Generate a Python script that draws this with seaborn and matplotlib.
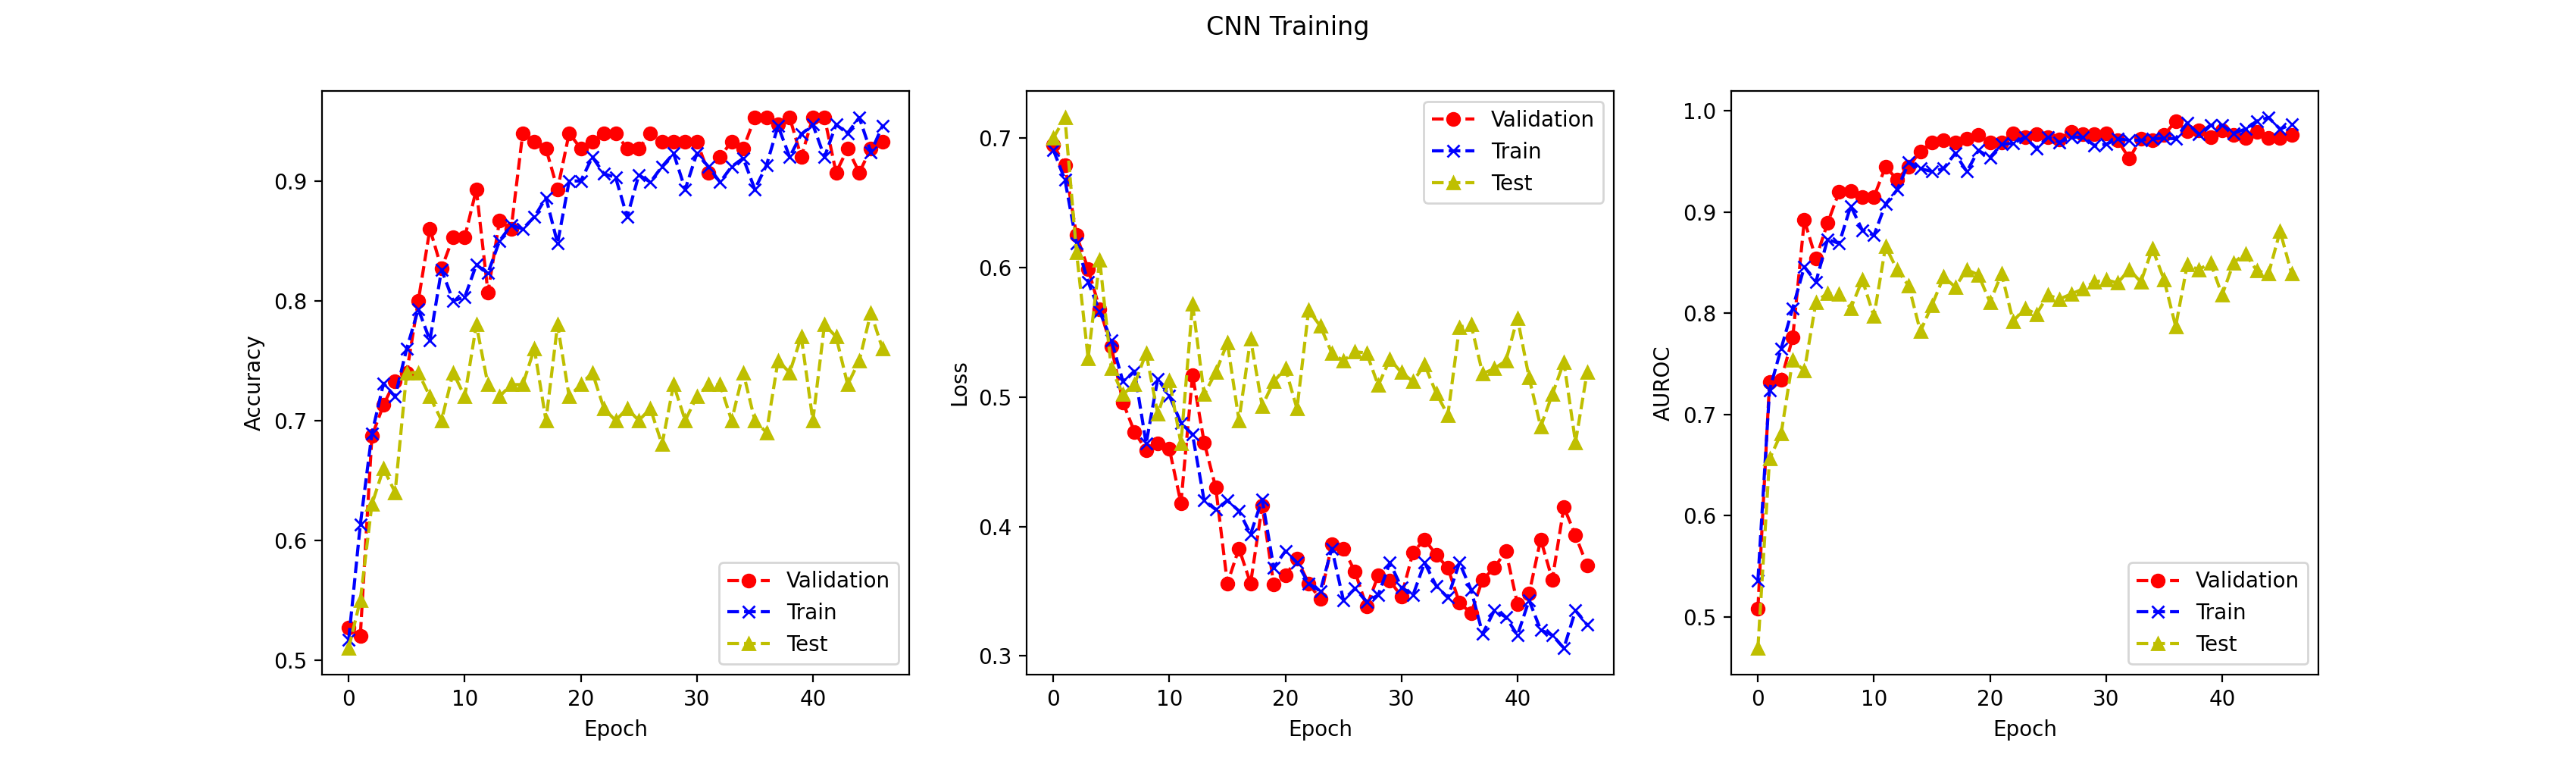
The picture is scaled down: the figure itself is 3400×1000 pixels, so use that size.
import numpy as np
import seaborn as sns
import matplotlib
matplotlib.use("Agg")
import matplotlib.pyplot as plt

# per-epoch metrics
epochs = list(range(47))

acc_val = [0.527, 0.52, 0.687, 0.713, 0.733, 0.74, 0.8, 0.86, 0.827, 0.853, 0.853, 0.893, 0.807, 0.867, 0.86,
           0.94, 0.933, 0.927, 0.893, 0.94, 0.927, 0.933, 0.94, 0.94, 0.927, 0.927, 0.94, 0.933, 0.933, 0.933,
           0.933, 0.907, 0.92, 0.933, 0.927, 0.953, 0.953, 0.947, 0.953, 0.92, 0.953, 0.953, 0.907, 0.927,
           0.907, 0.927, 0.933]
acc_train = [0.517, 0.613, 0.689, 0.731, 0.72, 0.76, 0.793, 0.767, 0.826, 0.80, 0.803, 0.83, 0.823, 0.85, 0.863,
             0.86, 0.87, 0.886, 0.848, 0.9, 0.9, 0.92, 0.906, 0.903, 0.87, 0.905, 0.899, 0.912, 0.923, 0.893,
             0.923, 0.912, 0.899, 0.912, 0.919, 0.893, 0.913, 0.946, 0.92, 0.939, 0.947, 0.92, 0.947, 0.94,
             0.953, 0.924, 0.946]
acc_test = [0.51, 0.55, 0.63, 0.66, 0.64, 0.74, 0.74, 0.72, 0.70, 0.74, 0.72, 0.78, 0.73, 0.72, 0.73, 0.73,
            0.76, 0.70, 0.78, 0.72, 0.73, 0.74, 0.71, 0.70, 0.71, 0.70, 0.71, 0.68, 0.73, 0.70, 0.72, 0.73,
            0.73, 0.70, 0.74, 0.70, 0.69, 0.75, 0.74, 0.77, 0.70, 0.78, 0.77, 0.73, 0.75, 0.79, 0.76]

loss_val = [0.695, 0.679, 0.625, 0.599, 0.568, 0.539, 0.496, 0.473, 0.459, 0.464, 0.46, 0.418, 0.517, 0.465,
            0.43, 0.356, 0.383, 0.356, 0.416, 0.355, 0.362, 0.375, 0.356, 0.344, 0.386, 0.383, 0.365, 0.338,
            0.362, 0.358, 0.346, 0.38, 0.39, 0.378, 0.368, 0.341, 0.333, 0.359, 0.368, 0.381, 0.34, 0.348,
            0.39, 0.359, 0.415, 0.393, 0.37]
loss_train = [0.691, 0.668, 0.619, 0.589, 0.566, 0.544, 0.512, 0.52, 0.464, 0.514, 0.501, 0.48, 0.471, 0.42,
              0.413, 0.42, 0.412, 0.394, 0.421, 0.368, 0.381, 0.372, 0.356, 0.35, 0.383, 0.343, 0.352, 0.342,
              0.347, 0.372, 0.353, 0.347, 0.372, 0.354, 0.345, 0.372, 0.351, 0.317, 0.335, 0.33, 0.316, 0.343,
              0.32, 0.316, 0.306, 0.335, 0.324]
loss_test = [0.70, 0.716, 0.612, 0.53, 0.606, 0.522, 0.502, 0.51, 0.534, 0.487, 0.513, 0.464, 0.572, 0.502,
             0.519, 0.542, 0.482, 0.545, 0.493, 0.512, 0.522, 0.491, 0.567, 0.555, 0.534, 0.528, 0.535, 0.534,
             0.509, 0.529, 0.519, 0.512, 0.525, 0.503, 0.486, 0.554, 0.556, 0.518, 0.522, 0.528, 0.561, 0.515,
             0.477, 0.502, 0.527, 0.465, 0.519]

auc_val = [0.508, 0.732, 0.734, 0.776, 0.892, 0.854, 0.889, 0.92, 0.921, 0.915, 0.915, 0.945, 0.932, 0.945,
           0.96, 0.969, 0.971, 0.969, 0.9725, 0.976, 0.969, 0.969, 0.978, 0.974, 0.977, 0.974, 0.972, 0.979,
           0.977, 0.977, 0.978, 0.971, 0.953, 0.9725, 0.971, 0.976, 0.99, 0.98, 0.981, 0.974, 0.981, 0.976,
           0.973, 0.979, 0.973, 0.973, 0.976]
auc_train = [0.536, 0.724, 0.765, 0.805, 0.846, 0.831, 0.873, 0.869, 0.906, 0.882, 0.877, 0.908, 0.922, 0.949,
             0.943, 0.94, 0.943, 0.958, 0.94, 0.961, 0.954, 0.967, 0.968, 0.974, 0.963, 0.974, 0.969, 0.974,
             0.974, 0.966, 0.967, 0.9725, 0.971, 0.971, 0.9725, 0.973, 0.9725, 0.988, 0.977, 0.986, 0.986,
             0.978, 0.982, 0.99, 0.9935, 0.982, 0.987]
auc_test = [0.469, 0.656, 0.681, 0.754, 0.743, 0.811, 0.82, 0.819, 0.805, 0.833, 0.797, 0.866, 0.843, 0.827,
            0.782, 0.808, 0.836, 0.826, 0.843, 0.838, 0.811, 0.839, 0.792, 0.805, 0.799, 0.818, 0.814, 0.819,
            0.824, 0.831, 0.833, 0.83, 0.843, 0.831, 0.864, 0.833, 0.787, 0.848, 0.843, 0.85, 0.818, 0.85,
            0.859, 0.842, 0.839, 0.881, 0.839]

panels = [
    ("Accuracy", acc_val, acc_train, acc_test, "lower right"),
    ("Loss", loss_val, loss_train, loss_test, "upper right"),
    ("AUROC", auc_val, auc_train, auc_test, "lower right"),
]

fig, axes = plt.subplots(1, 3, figsize=(17, 5), dpi=200)
fig.suptitle("CNN Training")

for ax, (name, val, train, test, loc) in zip(axes, panels):
    for vals, color, marker, label in [(val, "r", "o", "Validation"),
                                       (train, "b", "x", "Train"),
                                       (test, "y", "^", "Test")]:
        sns.lineplot(x=epochs, y=vals, ax=ax, color=color, linestyle="--", marker=marker,
                     mec=color, mew=1, markersize=6, label=label)
    ax.set_xlabel("Epoch")
    ax.set_ylabel(name)
    ax.legend(loc=loc)

fig.savefig("out.png")
